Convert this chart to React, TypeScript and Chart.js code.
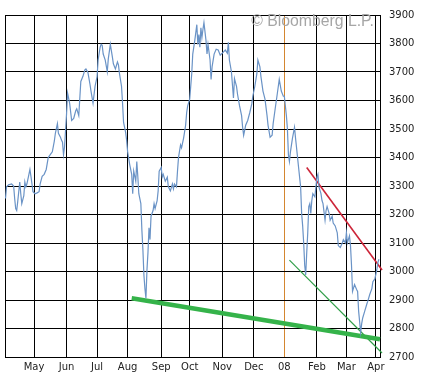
import React, { useEffect, useRef } from 'react';
import { Chart, registerables } from 'chart.js';

Chart.register(...registerables);

// Day offsets counted from 2007-04-01 (calendar days)
const days = [
  2, 3, 5, 8, 10, 11, 12, 13, 14, 16,
  17, 18, 20, 21, 22, 23, 25, 26, 27, 28,
  29, 31, 33, 35, 36, 38, 40, 42, 44, 46,
  48, 50, 51, 53, 54, 56, 57, 58, 59, 60,
  61, 62, 63, 65, 67, 69, 71, 72, 74, 76,
  78, 80, 81, 83, 85, 86, 88, 90, 92, 93,
  95, 96, 97, 98, 100, 102, 103, 105, 107, 108,
  110, 112, 113, 114, 116, 117, 118, 120, 121, 122,
  124, 126, 127, 128, 130, 131, 132, 133, 135, 136,
  137, 138, 139, 140, 141, 142, 143, 144, 145, 147,
  148, 149, 151, 152, 153, 155, 156, 157, 159, 161,
  162, 164, 166, 167, 168, 170, 171, 172, 174, 175,
  177, 179, 180, 181, 183, 185, 186, 188, 190, 191,
  192, 193, 194, 195, 196, 197, 199, 200, 201, 203,
  204, 205, 207, 209, 211, 213, 215, 216, 218, 220,
  221, 222, 224, 226, 227, 229, 230, 232, 234, 235,
  236, 238, 240, 242, 244, 245, 247, 249, 250, 252,
  253, 255, 257, 259, 260, 262, 264, 265, 267, 269,
  271, 273, 275, 276, 277, 278, 279, 280, 281, 282,
  283, 284, 286, 287, 288, 290, 292, 293, 294, 295,
  296, 297, 298, 299, 300, 301, 302, 303, 304, 306,
  308, 309, 310, 312, 313, 314, 316, 317, 318, 320,
  321, 323, 324, 326, 328, 329, 331, 333, 334, 336,
  337, 338, 340, 341, 342, 343, 345, 347, 348, 349,
  351, 352, 353, 355, 357, 358, 360, 362, 363, 365,
  367, 368, 369,
];

const prices = [
  3256, 3297, 3304, 3307, 3300, 3256, 3221, 3214, 3245, 3314,
  3273, 3238, 3266, 3314, 3297, 3307, 3341, 3358, 3334, 3307,
  3280, 3273, 3276, 3280, 3307, 3334, 3341, 3358, 3400, 3410,
  3420, 3458, 3485, 3519, 3485, 3471, 3461, 3454, 3410, 3437,
  3495, 3554, 3626, 3591, 3530, 3537, 3564, 3571, 3547, 3667,
  3684, 3708, 3711, 3698, 3657, 3633, 3591, 3650, 3684, 3742,
  3787, 3797, 3794, 3763, 3742, 3701, 3746, 3797, 3753, 3729,
  3711, 3735, 3725, 3694, 3650, 3591, 3523, 3489, 3461, 3420,
  3376, 3341, 3273, 3352, 3317, 3386, 3334, 3273, 3238, 3146,
  3077, 2988, 2940, 2906, 3005, 3067, 3153, 3112, 3194, 3214,
  3238, 3221, 3249, 3283, 3352, 3365, 3331, 3341, 3317, 3331,
  3297, 3283, 3307, 3290, 3307, 3297, 3352, 3400, 3444, 3434,
  3468, 3513, 3557, 3581, 3605, 3694, 3763, 3811, 3866, 3797,
  3831, 3787, 3855, 3821, 3849, 3873, 3811, 3763, 3797, 3742,
  3674, 3718, 3763, 3780, 3777, 3759, 3766, 3770, 3777, 3766,
  3804, 3742, 3701, 3609, 3677, 3650, 3622, 3581, 3547, 3506,
  3478, 3513, 3530, 3557, 3588, 3615, 3650, 3694, 3742, 3718,
  3684, 3633, 3605, 3547, 3513, 3471, 3478, 3519, 3571, 3622,
  3674, 3633, 3615, 3615, 3581, 3547, 3502, 3410, 3386, 3420,
  3444, 3468, 3506, 3468, 3434, 3365, 3297, 3204, 3160, 3101,
  3022, 2988, 3067, 3136, 3228, 3238, 3204, 3249, 3273, 3262,
  3331, 3341, 3297, 3273, 3249, 3238, 3180, 3214, 3228, 3204,
  3180, 3194, 3170, 3160, 3136, 3091, 3084, 3101, 3112, 3101,
  3136, 3101, 3125, 3091, 3022, 2930, 2954, 2937, 2930, 2861,
  2786, 2817, 2837, 2861, 2885, 2896, 2920, 2940, 2964, 2974,
  3009, 3033, 3043,
];

// Month gridlines (first trading day of each month) and their labels
const monthTickDays = [30, 62, 92, 122, 155, 183, 215, 246, 276, 308, 337, 366];
const monthTickLabels = ['May', 'Jun', 'Jul', 'Aug', 'Sep', 'Oct', 'Nov', 'Dec', '08', 'Feb', 'Mar', 'Apr'];
const yearMarkDay = 276;

const xMinDay = 1.5;
const xMaxDay = 370;
const yMin = 2700;
const yMax = 3900;
const yStep = 100;

// Trend lines drawn on the chart
const resistanceDays = [298, 372];
const resistanceValues = [3365, 3005];
const supportDays = [126, 370];
const supportValues = [2906, 2762];
const channelDays = [281, 372];
const channelValues = [3040, 2714];

const watermarkText = '\u00A9 Bloomberg L.P.';

const toPoints = (xs: number[], ys: number[]) =>
  xs.slice(0, Math.min(xs.length, ys.length)).map((x, i) => ({ x, y: ys[i] }));

const framePlugin = {
  id: 'frame',
  beforeDatasetsDraw(chart: any) {
    const { ctx, chartArea } = chart;
    const l = Math.round(chartArea.left);
    const t = Math.round(chartArea.top);
    const r = Math.round(chartArea.right);
    const b = Math.round(chartArea.bottom);
    ctx.save();
    ctx.strokeStyle = '#000000';
    ctx.lineWidth = 1;
    ctx.strokeRect(l + 0.5, t + 0.5, r - l, b - t);
    ctx.restore();
  },
  afterDraw(chart: any) {
    const { ctx } = chart;
    ctx.save();
    ctx.font = '15.8px "Liberation Sans", Arial, sans-serif';
    ctx.fillStyle = '#a6a6a6';
    ctx.textAlign = 'right';
    ctx.textBaseline = 'alphabetic';
    ctx.fillText(watermarkText, 374, 25.5);
    ctx.restore();
  },
};

export default function App() {
  const canvasRef = useRef<HTMLCanvasElement | null>(null);

  useEffect(() => {
    const canvas = canvasRef.current;
    if (!canvas) return;
    const tickFont = { family: '"DejaVu Sans", Verdana, sans-serif', size: 10 };
    const chart = new Chart(canvas, {
      type: 'line',
      data: {
        datasets: [
          {
            data: toPoints(days, prices),
            borderColor: '#6a93c6',
            borderWidth: 1.2,
            pointRadius: 0,
            tension: 0,
            fill: false,
          },
          {
            data: toPoints(supportDays, supportValues),
            borderColor: '#35b34a',
            borderWidth: 4.5,
            pointRadius: 0,
            fill: false,
            clip: false,
          },
          {
            data: toPoints(channelDays, channelValues),
            borderColor: '#2f9e48',
            borderWidth: 1.2,
            pointRadius: 0,
            fill: false,
            clip: false,
          },
          {
            data: toPoints(resistanceDays, resistanceValues),
            borderColor: '#cc2438',
            borderWidth: 1.6,
            pointRadius: 0,
            fill: false,
            clip: false,
          },
        ],
      },
      options: {
        responsive: false,
        animation: false,
        events: [],
        layout: { padding: { left: 5, top: 7, right: 0, bottom: 0 } },
        plugins: {
          legend: { display: false },
          tooltip: { enabled: false },
          title: { display: false },
        },
        scales: {
          x: {
            type: 'linear',
            min: xMinDay,
            max: xMaxDay,
            position: 'bottom',
            afterBuildTicks: (scale: any) => {
              scale.ticks = monthTickDays.map((v) => ({ value: v }));
            },
            afterFit: (scale: any) => {
              scale.height = 21;
            },
            grid: {
              color: (ctx: any) =>
                ctx.tick && ctx.tick.value === yearMarkDay ? '#d4862f' : '#000000',
              lineWidth: 1,
              drawTicks: false,
            },
            border: { display: false },
            ticks: {
              autoSkip: false,
              maxRotation: 0,
              padding: 4,
              color: '#222222',
              font: tickFont,
              callback: (value: any) => {
                const i = monthTickDays.indexOf(Number(value));
                return i >= 0 ? monthTickLabels[i] : '';
              },
            },
          },
          y: {
            type: 'linear',
            position: 'right',
            min: yMin,
            max: yMax,
            afterFit: (scale: any) => {
              scale.width = 43;
            },
            grid: { color: '#000000', lineWidth: 1, drawTicks: false },
            border: { display: false },
            ticks: {
              stepSize: yStep,
              padding: 9,
              color: '#222222',
              font: tickFont,
              callback: (value: any) => String(value),
            },
          },
        },
      },
      plugins: [framePlugin],
    } as any);
    return () => chart.destroy();
  }, []);

  return (
    <div style={{ position: 'fixed', left: 0, top: 0, width: 423, height: 378, background: '#ffffff' }}>
      <canvas ref={canvasRef} width={423} height={378} style={{ display: 'block' }} />
    </div>
  );
}
